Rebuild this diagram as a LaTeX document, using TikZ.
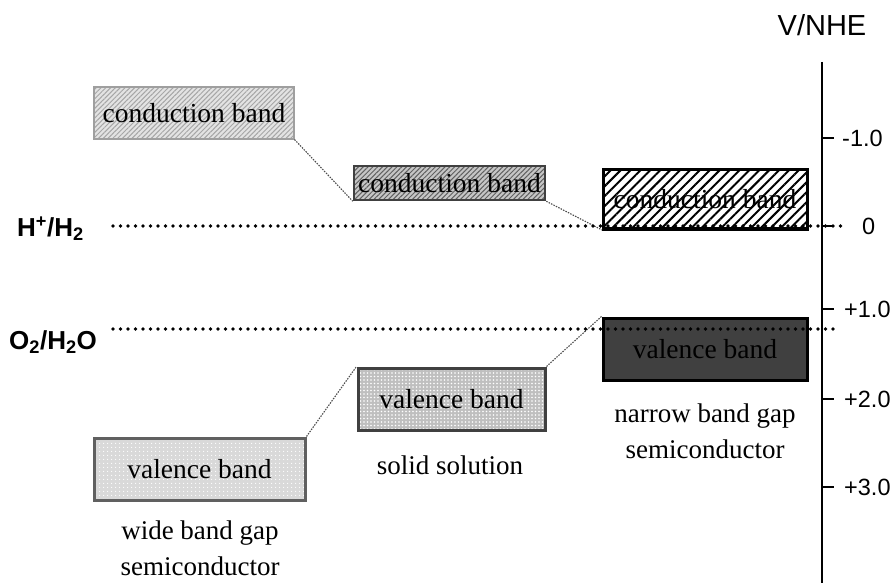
\documentclass[tikz,border=0pt]{standalone}
\usepackage{fontspec}
\setmainfont{Liberation Serif}
\newfontfamily\axisfont{Liberation Sans}
\usetikzlibrary{patterns.meta}

\begin{document}
\begin{tikzpicture}[x=1pt,y=-1pt]
\tikzstyle{band}=[rectangle, inner sep=0pt, font=\fontsize{27.5}{32}\selectfont, line width=2.5pt]
\tikzstyle{link}=[line width=1.1pt, draw=gray!60!black, dash pattern=on 1.5pt off 1.2pt]
\tikzstyle{level}=[line width=3.8pt, line cap=round, dash pattern=on 0pt off 7.5pt]
\tikzstyle{caption}=[align=center, font=\fontsize{27}{36}\selectfont]
\tikzstyle{ax}=[font=\axisfont\fontsize{23.5}{26}\selectfont, anchor=west, inner sep=0pt]
\tikzstyle{redox}=[font=\axisfont\bfseries\fontsize{26}{30}\selectfont, anchor=west, inner sep=0pt]
\useasboundingbox (0,0) rectangle (895,583);
%conduction bands
\node[band, draw=gray!75, minimum width=200, minimum height=52,
  preaction={fill=gray!22}, pattern={Lines[distance=3.4pt,angle=45,line width=1pt]}, pattern color=gray!70]
  (cbw) at (194,113) {conduction band};
\node[band, draw=gray!50!black, minimum width=191, minimum height=34,
  preaction={fill=gray!45}, pattern={Lines[distance=3.4pt,angle=45,line width=1pt]}, pattern color=gray!75!black]
  (cbs) at (449.5,183) {conduction band};
\node[band, draw=black, line width=3pt, minimum width=204, minimum height=59,
  preaction={fill=white}, pattern={Lines[distance=7pt,angle=45,line width=2pt]}, pattern color=black]
  (cbn) at (705,199.5) {conduction band};
%valence bands
\node[band, draw=black, line width=3pt, minimum width=204, minimum height=62, fill=black!75]
  (vbn) at (705,349) {valence band};
\node[band, draw=black!75, line width=3pt, minimum width=187, minimum height=62,
  preaction={fill=gray!50}, pattern={Dots[distance=3.5pt,radius=0.8pt]}, pattern color=white]
  (vbs) at (451.5,399) {valence band};
\node[band, draw=gray!75!black, line width=3pt, minimum width=211, minimum height=62,
  preaction={fill=gray!30}, pattern={Dots[distance=4pt,radius=0.7pt]}, pattern color=white]
  (vbw) at (199.5,469) {valence band};
%links
\draw[link] (cbw.south east) -- (cbs.south west);
\draw[link] (cbs.south east) -- (cbn.south west);
\draw[link] (vbw.north east) -- (vbs.north west);
\draw[link] (vbs.north east) -- (vbn.north west);
%captions
\node[caption] (capw) at (200,548) {wide band gap\\semiconductor};
\node[caption] (caps) at (450,465) {solid solution};
\node[caption] (capn) at (705,431) {narrow band gap\\semiconductor};
%redox levels
\node[redox] (hlab) at (17,229) {H\textsuperscript{+}/H\textsubscript{2}};
\node[redox] (olab) at (9,342) {O\textsubscript{2}/H\textsubscript{2}O};
\coordinate (h0) at (113,226);
\coordinate (h1) at (848,226);
\coordinate (o0) at (113,329);
\coordinate (o1) at (838,329);
\draw[level] (h0) -- (h1);
\draw[level] (o0) -- (o1);
%axis
\coordinate (atop) at (822,62);
\coordinate (abot) at (822,583);
\draw[line width=2.5pt] (atop) -- (abot);
\node[font=\axisfont\fontsize{29}{32}\selectfont, inner sep=0pt] (vnhe) at (822,25) {V/NHE};
\foreach \y/\l/\dx [count=\i] in {138/-1.0/20, 309/+1.0/22, 399/+2.0/22, 487/+3.0/22}{
  \draw[line width=1.5pt] (822,\y) -- (834,\y);
  \node[ax] (t\i) at (822+\dx,\y) {\l};
}
\draw[line width=1.5pt] (822,226) -- (832,226);
\node[ax] (t0) at (862,226) {0};
\end{tikzpicture}
\end{document}
